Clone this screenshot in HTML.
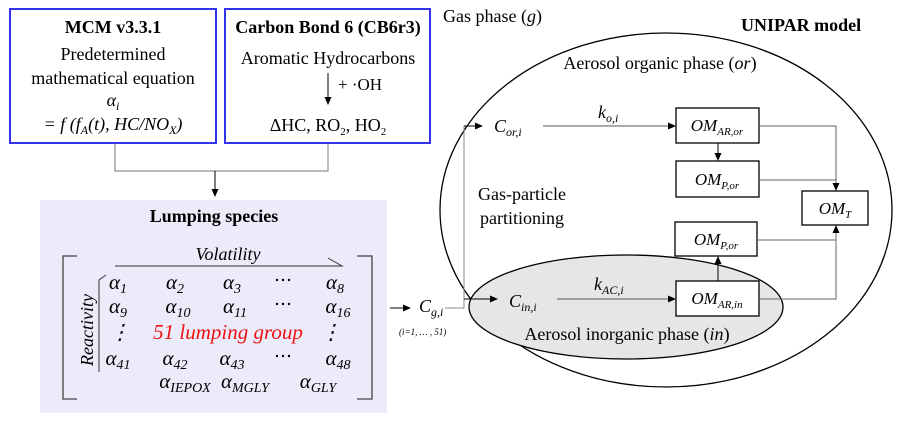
<!DOCTYPE html>
<html><head><meta charset="utf-8"><style>
body{margin:0;background:#fff;}
svg text{font-family:"Liberation Serif",serif;fill:#000;}
.m{font-style:italic;}
</style></head><body>
<svg width="902" height="423" viewBox="0 0 902 423" xmlns="http://www.w3.org/2000/svg">
<defs><marker id="a" markerWidth="8" markerHeight="8" refX="7" refY="4" orient="auto" markerUnits="userSpaceOnUse"><path d="M0,0.5 L8,4 L0,7.5z" fill="#000"/></marker></defs>
<rect x="10" y="9" width="206" height="134" fill="#fff" stroke="#3333ee" stroke-width="2"/>
<rect x="225" y="9" width="205" height="134" fill="#fff" stroke="#3333ee" stroke-width="2"/>
<text x="113" y="33" font-size="18" font-weight="bold" text-anchor="middle">MCM v3.3.1</text>
<text x="113" y="60" font-size="18" text-anchor="middle">Predetermined</text>
<text x="113" y="84" font-size="18" text-anchor="middle">mathematical  equation</text>
<text x="113" y="106" font-size="18" text-anchor="middle" class="m">α<tspan font-size="12" dy="4">i</tspan></text>
<text x="113" y="130" font-size="18" text-anchor="middle" class="m">= f (f<tspan font-size="12" dy="4">A</tspan><tspan dy="-4">(t), HC/NO</tspan><tspan font-size="12" dy="4">X</tspan><tspan dy="-4">)</tspan></text>
<text x="328" y="33" font-size="18" font-weight="bold" text-anchor="middle">Carbon Bond 6 (CB6r3)</text>
<text x="328" y="64" font-size="18" text-anchor="middle">Aromatic  Hydrocarbons</text>
<line x1="328" y1="73" x2="328" y2="104" stroke="#000" marker-end="url(#a)"/>
<text x="338" y="90" font-size="17">+ ·OH</text>
<text x="328" y="131" font-size="18" text-anchor="middle">ΔHC, RO<tspan font-size="11" dy="4">2</tspan><tspan dy="-4">, HO</tspan><tspan font-size="11" dy="4">2</tspan></text>
<polyline points="115,143 115,171 328,171 328,143" fill="none" stroke="#777"/>
<line x1="215" y1="171" x2="215" y2="196" stroke="#000" marker-end="url(#a)"/>
<rect x="40" y="200" width="347" height="213" fill="#ebebfa"/>
<text x="214" y="222" font-size="18" font-weight="bold" text-anchor="middle">Lumping species</text>
<polyline points="77,256 63,256 63,399 77,399" fill="none" stroke="#444" stroke-width="1.3"/>
<polyline points="357,256 372,256 372,399 357,399" fill="none" stroke="#444" stroke-width="1.3"/>
<text x="228" y="260" font-size="18" class="m" text-anchor="middle">Volatility</text>
<polyline points="115,266 342,266 328,258" fill="none" stroke="#333"/>
<text transform="translate(93,330) rotate(-90)" font-size="18" class="m" text-anchor="middle">Reactivity</text>
<polyline points="99,372 99,280 106,275" fill="none" stroke="#333"/>
<g fill="#000">
<circle cx="277" cy="280" r="1.2"/><circle cx="283" cy="280" r="1.2"/><circle cx="289" cy="280" r="1.2"/>
<circle cx="277" cy="304" r="1.2"/><circle cx="283" cy="304" r="1.2"/><circle cx="289" cy="304" r="1.2"/>
<circle cx="277" cy="356" r="1.2"/><circle cx="283" cy="356" r="1.2"/><circle cx="289" cy="356" r="1.2"/>
</g>
<g font-size="21" class="m" text-anchor="middle">
<text x="118" y="289">α<tspan font-size="14" dy="4">1</tspan></text>
<text x="175" y="289">α<tspan font-size="14" dy="4">2</tspan></text>
<text x="232" y="289">α<tspan font-size="14" dy="4">3</tspan></text>
<text x="335" y="289">α<tspan font-size="14" dy="4">8</tspan></text>
<text x="118" y="313">α<tspan font-size="14" dy="4">9</tspan></text>
<text x="178" y="313">α<tspan font-size="14" dy="4">10</tspan></text>
<text x="235" y="313">α<tspan font-size="14" dy="4">11</tspan></text>
<text x="338" y="313">α<tspan font-size="14" dy="4">16</tspan></text>
<text x="120" y="339">⋮</text>
<text x="228" y="339" style="fill:#ee1111" font-size="21">51 lumping group</text>
<text x="331" y="339">⋮</text>
<text x="118" y="365">α<tspan font-size="14" dy="4">41</tspan></text>
<text x="175" y="365">α<tspan font-size="14" dy="4">42</tspan></text>
<text x="232" y="365">α<tspan font-size="14" dy="4">43</tspan></text>
<text x="338" y="365">α<tspan font-size="14" dy="4">48</tspan></text>
<text x="185" y="388">α<tspan font-size="14" dy="4">IEPOX</tspan></text>
<text x="245" y="388">α<tspan font-size="14" dy="4">MGLY</tspan></text>
<text x="318" y="388">α<tspan font-size="14" dy="4">GLY</tspan></text>
</g>
<line x1="390" y1="308" x2="410" y2="308" stroke="#000" marker-end="url(#a)"/>
<text x="419" y="312" font-size="18" class="m">C<tspan font-size="12" dy="4">g,i</tspan></text>
<text x="399" y="335" font-size="9" class="m">(i=1, … , 51)</text>
<text x="443" y="22" font-size="18">Gas phase (<tspan class="m">g</tspan>)</text>
<text x="741" y="31" font-size="18" font-weight="bold">UNIPAR model</text>
<ellipse cx="666" cy="210" rx="226" ry="177" fill="none" stroke="#000" stroke-width="1.3"/>
<ellipse cx="626" cy="307" rx="157" ry="52" fill="#e6e6e6" stroke="#000" stroke-width="1.3"/>
<text x="660" y="69" font-size="18" text-anchor="middle">Aerosol  organic  phase  (<tspan class="m">or</tspan>)</text>
<text x="522" y="200" font-size="18" text-anchor="middle">Gas-particle</text>
<text x="522" y="224" font-size="18" text-anchor="middle">partitioning</text>
<text x="627" y="340" font-size="18" text-anchor="middle">Aerosol  inorganic  phase  (<tspan class="m">in</tspan>)</text>
<polyline points="445,308 464,308 464,126" fill="none" stroke="#888"/>
<line x1="464" y1="126" x2="482" y2="126" stroke="#000" marker-end="url(#a)"/>
<line x1="464" y1="299" x2="497" y2="299" stroke="#000" marker-end="url(#a)"/>
<text x="494" y="132" font-size="18" class="m">C<tspan font-size="12" dy="4">or,i</tspan></text>
<text x="509" y="307" font-size="18" class="m">C<tspan font-size="12" dy="4">in,i</tspan></text>
<text x="598" y="118" font-size="18" class="m">k<tspan font-size="12" dy="4">o,i</tspan></text>
<text x="594" y="290" font-size="18" class="m">k<tspan font-size="12" dy="4">AC,i</tspan></text>
<line x1="543" y1="126" x2="675" y2="126" stroke="#555" marker-end="url(#a)"/>
<line x1="557" y1="299" x2="675" y2="299" stroke="#555" marker-end="url(#a)"/>
<g fill="#fff" stroke="#000" stroke-width="1.3">
<rect x="676" y="108" width="83" height="35"/>
<rect x="676" y="161" width="83" height="36"/>
<rect x="802" y="191" width="66" height="34"/>
<rect x="675" y="222" width="82" height="34"/>
<rect x="676" y="281" width="83" height="35"/>
</g>
<g font-size="17" class="m" text-anchor="middle">
<text x="717" y="131">OM<tspan font-size="11" dy="4">AR,or</tspan></text>
<text x="717" y="185">OM<tspan font-size="11" dy="4">P,or</tspan></text>
<text x="835" y="214">OM<tspan font-size="11" dy="4">T</tspan></text>
<text x="716" y="245">OM<tspan font-size="11" dy="4">P,or</tspan></text>
<text x="717" y="304">OM<tspan font-size="11" dy="4">AR,in</tspan></text>
</g>
<line x1="718" y1="143" x2="718" y2="160" stroke="#000" marker-end="url(#a)"/>
<line x1="718" y1="281" x2="718" y2="257" stroke="#000" marker-end="url(#a)"/>
<polyline points="759,126 836,126 836,190" fill="none" stroke="#666" marker-end="url(#a)"/>
<line x1="759" y1="180" x2="836" y2="180" stroke="#666"/>
<line x1="757" y1="240" x2="836" y2="240" stroke="#666"/>
<polyline points="759,299 836,299 836,226" fill="none" stroke="#666" marker-end="url(#a)"/>
</svg>
</body></html>
